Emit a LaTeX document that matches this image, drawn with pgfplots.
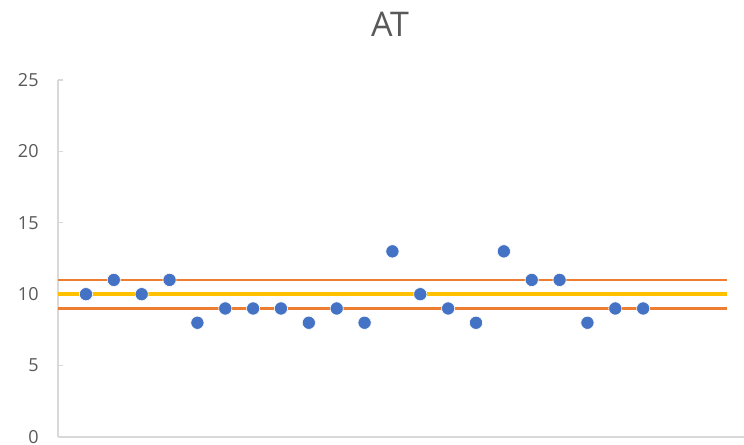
\documentclass[border=0pt]{standalone}
\usepackage{pgfplots}
\pgfplotsset{compat=1.18}
\usepackage{fontspec}
\setmainfont{Open Sans}
\definecolor{ptblue}{HTML}{4472C4}
\definecolor{limorange}{HTML}{ED7D31}
\definecolor{meanyellow}{HTML}{FFC000}
\definecolor{axisgray}{HTML}{D9D9D9}
\definecolor{labelgray}{HTML}{595959}
\begin{document}
\begin{tikzpicture}
\path[use as bounding box] (0,0) rectangle (744bp,445bp);
\node[anchor=base, text=labelgray, font=\fontsize{34bp}{36bp}\selectfont] at (390bp,408.5bp) {AT};
\begin{axis}[
  at={(58.1bp,8bp)}, anchor=south west,
  scale only axis,
  width=696.5bp, height=357bp,
  xmin=0, xmax=25, ymin=0, ymax=25,
  axis x line=bottom, axis y line=left,
  axis line style={axisgray, line width=2bp, -},
  xtick=\empty,
  ytick={0,5,10,15,20,25},
  tick align=inside,
  major tick length=4.5bp,
  ytick style={axisgray, line width=1.2bp},
  yticklabel style={text=labelgray, font=\fontsize{18bp}{20bp}\selectfont, xshift=-16bp},
  /pgf/number format/assume math mode=true,
  clip=false,
]
% control limits and centre line
\addplot[limorange, line width=2.6bp] coordinates {(0,11) (24,11)};
\addplot[limorange, line width=2.6bp] coordinates {(0,9) (24,9)};
\addplot[meanyellow, line width=4bp] coordinates {(0,10) (24,10)};
% observations
\addplot[only marks, mark=*, mark size=6.6bp, mark options={fill=ptblue, draw=white, line width=0.6bp}] coordinates {
 (1,10) (2,11) (3,10) (4,11) (5,8) (6,9) (7,9) (8,9) (9,8) (10,9) (11,8)
 (12,13) (13,10) (14,9) (15,8) (16,13) (17,11) (18,11) (19,8) (20,9) (21,9)
};
\end{axis}
\end{tikzpicture}
\end{document}
